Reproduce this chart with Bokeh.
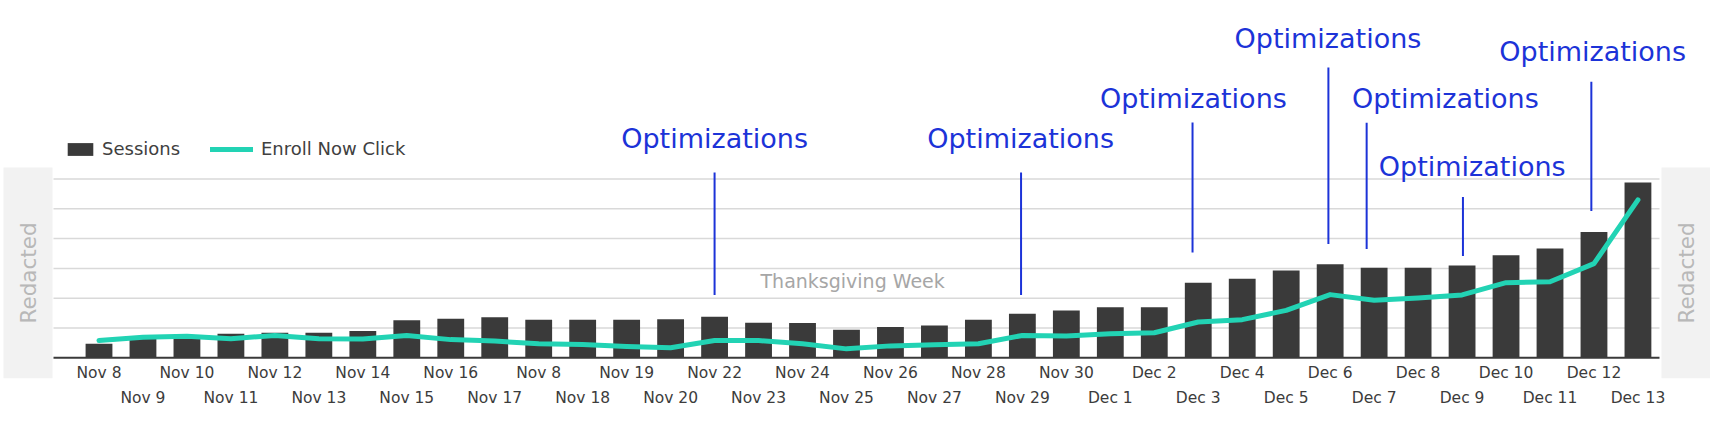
import math
from bokeh.plotting import figure
from bokeh.models import (Range1d, LinearAxis, FixedTicker, Legend, LegendItem,
                          ColumnDataSource)
from bokeh.core.properties import value
from bokeh.embed import file_html
from bokeh.resources import INLINE

# ---------------- data ----------------
dates = ["Nov 8", "Nov 9", "Nov 10", "Nov 11", "Nov 12", "Nov 13", "Nov 14", "Nov 15",
         "Nov 16", "Nov 17", "Nov 8", "Nov 18", "Nov 19", "Nov 20", "Nov 22", "Nov 23",
         "Nov 24", "Nov 25", "Nov 26", "Nov 27", "Nov 28", "Nov 29", "Nov 30", "Dec 1",
         "Dec 2", "Dec 3", "Dec 4", "Dec 5", "Dec 6", "Dec 7", "Dec 8", "Dec 9",
         "Dec 10", "Dec 11", "Dec 12", "Dec 13"]
sessions = [0.47, 0.63, 0.63, 0.81, 0.84, 0.84, 0.90, 1.26, 1.31, 1.36, 1.28, 1.28,
            1.28, 1.29, 1.38, 1.18, 1.17, 0.94, 1.03, 1.08, 1.28, 1.48, 1.59, 1.70,
            1.70, 2.52, 2.65, 2.93, 3.14, 3.02, 3.02, 3.10, 3.44, 3.67, 4.22, 5.88]
enroll = [0.58, 0.69, 0.72, 0.64, 0.75, 0.64, 0.63, 0.75, 0.61, 0.56, 0.47, 0.45,
          0.38, 0.34, 0.58, 0.58, 0.47, 0.30, 0.40, 0.44, 0.47, 0.75, 0.73, 0.81,
          0.84, 1.20, 1.28, 1.59, 2.12, 1.93, 2.01, 2.11, 2.52, 2.55, 3.16, 5.30]

# annotation markers ("Optimizations")
ann_x = [14.0, 20.97, 24.87, 27.96, 28.83, 31.02, 33.94]
ann_line_bottom = [2.11, 2.11, 3.53, 3.82, 3.65, 3.42, 4.93]
ann_line_top = [6.22, 6.22, 7.90, 9.74, 7.89, 5.40, 9.26]
ann_text_x = [14.0, 20.96, 24.89, 27.95, 30.62, 31.23, 33.97]
ann_text_y = [7.35, 7.35, 8.70, 10.70, 8.69, 6.41, 10.27]
ann_text = ["Optimizations"] * 7

note_x = [17.14]
note_y = [2.57]
note_text = ["Thanksgiving Week"]

grid_ticks = [1, 2, 3, 4, 5, 6]
side_text = ["Redacted", "Redacted"]

# ---------------- layout / styles ----------------
W, H = 1710, 423
X0_PX, STEP_PX = 98.5, 43.97       # centre of first bar, px per category
BASE_PX, UNIT_PX = 357.3, 29.8     # baseline, px per grid step
FRAME_BOTTOM_PX = 378
PLOT_L_PX, PLOT_R_PX = 53, 1659
PANELS_PX = [(3, 52), (1661, 1710)]
PANEL_TOP_PX = 167


def xd(px):
    return (px - X0_PX) / STEP_PX


def yd(py):
    return (BASE_PX - py) / UNIT_PX


BAR = "#3a3a3a"
TEAL = "#22d3b4"
BLUE = "#1c33d8"
FONT = "DejaVu Sans"

idx = list(range(len(dates)))
src = ColumnDataSource(dict(x=idx, sessions=sessions, enroll=enroll))

p = figure(width=W, height=H, output_backend="svg", toolbar_location=None,
           x_range=Range1d(xd(0), xd(W)), y_range=Range1d(yd(FRAME_BOTTOM_PX), yd(0)),
           x_axis_location=None, y_axis_location=None,
           min_border_left=0, min_border_right=0, min_border_top=0,
           min_border_bottom=H - FRAME_BOTTOM_PX)
p.outline_line_color = None
p.background_fill_color = "white"
p.border_fill_color = "white"
for g in list(p.grid):
    g.visible = False

# gray side panels with "Redacted"
p.quad(left=[xd(a) for a, b in PANELS_PX], right=[xd(b) for a, b in PANELS_PX],
       top=yd(PANEL_TOP_PX), bottom=yd(FRAME_BOTTOM_PX),
       fill_color="#f2f2f2", line_color=None)
p.text(x=[xd((a + b) / 2) for a, b in PANELS_PX], y=yd((PANEL_TOP_PX + FRAME_BOTTOM_PX) / 2),
       text=side_text, angle=math.pi / 2, text_align="center", text_baseline="middle",
       text_font_size="21.5px", text_color="#b8b8b8", text_font=value(FONT))

# horizontal grid lines (only across the plot area)
p.segment(x0=xd(PLOT_L_PX), x1=xd(PLOT_R_PX), y0=grid_ticks, y1=grid_ticks,
          line_color="#d9d9d9", line_width=1.5)

bars = p.vbar(x="x", top="sessions", width=0.61, bottom=0, source=src,
              fill_color=BAR, line_color=None)
line = p.line(x="x", y="enroll", source=src, line_color=TEAL, line_width=5,
              line_join="round", line_cap="round")

# baseline
p.segment(x0=xd(PLOT_L_PX), x1=xd(PLOT_R_PX), y0=0, y1=0,
          line_color="#3a3a3a", line_width=2)

# annotations
p.segment(x0=ann_x, y0=ann_line_bottom, x1=ann_x, y1=ann_line_top,
          line_color=BLUE, line_width=2)
p.text(x=ann_text_x, y=ann_text_y, text=ann_text, text_align="center",
       text_baseline="alphabetic", text_font_size="27px", text_color=BLUE,
       text_font=value(FONT))
p.text(x=note_x, y=note_y, text=note_text, text_align="center",
       text_baseline="alphabetic", text_font_size="19px", text_color="#a6a6a6",
       text_font=value(FONT))

# two-row x axis
even = [i for i in idx if i % 2 == 0]
odd = [i for i in idx if i % 2 == 1]
ax1 = LinearAxis(ticker=FixedTicker(ticks=even),
                 major_label_overrides={i: dates[i] for i in even})
ax2 = LinearAxis(ticker=FixedTicker(ticks=odd),
                 major_label_overrides={i: dates[i] for i in odd})
for ax in (ax1, ax2):
    ax.axis_line_color = None
    ax.major_tick_line_color = None
    ax.minor_tick_line_color = None
    ax.major_tick_out = 0
    ax.major_tick_in = 0
    ax.major_label_text_font = FONT
    ax.major_label_text_font_size = "15.5px"
    ax.major_label_text_color = "#3c3c3c"
ax1.major_label_standoff = -15
ax2.major_label_standoff = 4
p.add_layout(ax1, "below")
p.add_layout(ax2, "below")

# legends
leg1 = Legend(items=[LegendItem(label="Sessions", renderers=[bars])],
              location=(64, 219), orientation="horizontal", glyph_width=32,
              glyph_height=16, label_standoff=6, padding=0, margin=0, spacing=0,
              border_line_color=None, background_fill_alpha=0,
              label_text_font=FONT, label_text_font_size="18px",
              label_text_color="#404040")
leg2 = Legend(items=[LegendItem(label="Enroll Now Click", renderers=[line])],
              location=(210, 219), orientation="horizontal", glyph_width=43,
              glyph_height=16, label_standoff=8, padding=0, margin=0, spacing=0,
              border_line_color=None, background_fill_alpha=0,
              label_text_font=FONT, label_text_font_size="18px",
              label_text_color="#404040")
p.add_layout(leg1)
p.add_layout(leg2)

open("out.html", "w").write(file_html(p, INLINE))
